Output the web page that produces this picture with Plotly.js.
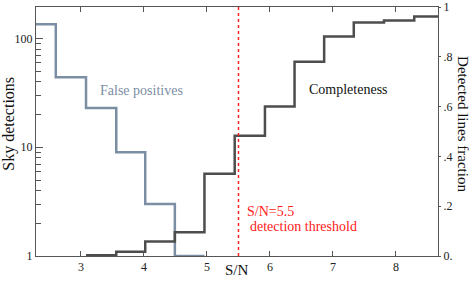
<!DOCTYPE html>
<html>
<head>
<meta charset="utf-8">
<script src="https://cdn.plot.ly/plotly-3.0.1.min.js"></script>
<style>html,body{margin:0;padding:0;background:#fff;}#chart{width:471px;height:284px;}</style>
</head>
<body>
<div id="chart"></div>
<script>
// S/N bin edges (14 bins)
const binEdges = [2.13, 2.60, 3.08, 3.56, 4.02, 4.49, 4.96, 5.44, 5.92, 6.39, 6.86, 7.33, 7.81, 8.29, 8.76];
// Sky detections (false positives) per bin, log scale
const falsePositives = [135, 44, 23, 9, 3, 1, null, null, null, null, null, null, null, null];
// Detected lines fraction (completeness) per bin
const completeness = [null, null, 0.003, 0.017, 0.058, 0.095, 0.33, 0.483, 0.60, 0.78, 0.882, 0.938, 0.946, 0.962];
const threshold = 5.5;
const xTicks = [3, 4, 5, 6, 7, 8];
const yTicks = [1, 10, 100];
const yMinorTicks = [2, 3, 4, 5, 6, 7, 8, 9, 20, 30, 40, 50, 60, 70, 80, 90];
const y2Ticks = [0, 0.2, 0.4, 0.6, 0.8, 1];
const y2TickText = ['0.', '.2', '.4', '.6', '.8', '1'];

function stepXY(values) {
  const xs = [], ys = [];
  let last = -1;
  values.forEach((v, i) => {
    if (v === null) return;
    xs.push(binEdges[i]); ys.push(v); last = i;
  });
  xs.push(binEdges[last + 1]); ys.push(values[last]);
  return {xs, ys};
}

const fp = stepXY(falsePositives);
const cp = stepXY(completeness);

const serif = 'Liberation Serif, Times New Roman, serif';
const fpColor = '#7b8ea4';
const cpColor = '#4d4d4d';

const traces = [
  {x: fp.xs, y: fp.ys, type: 'scatter', mode: 'lines', line: {shape: 'hv', color: fpColor, width: 2.5},
   xaxis: 'x', yaxis: 'y', hoverinfo: 'skip'},
  {x: cp.xs, y: cp.ys, type: 'scatter', mode: 'lines', line: {shape: 'hv', color: cpColor, width: 2.5},
   xaxis: 'x', yaxis: 'y2', hoverinfo: 'skip'}
];

const layout = {
  width: 471, height: 284,
  margin: {l: 36, r: 33, t: 7, b: 27.5, pad: 0},
  paper_bgcolor: '#fff', plot_bgcolor: '#fff',
  showlegend: false,
  font: {family: serif, size: 12, color: '#222'},
  xaxis: {
    range: [2.286, 8.667], tickvals: xTicks, ticks: 'inside', ticklen: 5, tickcolor: '#555',
    showline: true, linecolor: '#555', linewidth: 1, mirror: 'ticks', showgrid: false, zeroline: false,
    tickfont: {family: serif, size: 12, color: '#222'}
  },
  yaxis: {
    type: 'log', range: [0, 2.29], tickvals: yTicks, ticktext: yTicks.map(String),
    ticks: 'inside', ticklen: 7, tickcolor: '#555',
    minor: {tickvals: yMinorTicks, ticks: 'inside', ticklen: 5, tickcolor: '#555', showgrid: false},
    showline: true, linecolor: '#555', linewidth: 1, showgrid: false, zeroline: false,
    tickfont: {family: serif, size: 12, color: '#222'}
  },
  yaxis2: {
    overlaying: 'y', side: 'right', range: [0, 1], tickvals: y2Ticks, ticktext: y2TickText,
    ticks: 'outside', ticklen: 2, tickcolor: '#555',
    showline: true, linecolor: '#555', linewidth: 1, showgrid: false, zeroline: false,
    tickfont: {family: serif, size: 12, color: '#222'}
  },
  shapes: [
    {type: 'line', xref: 'x', yref: 'paper', x0: threshold, x1: threshold, y0: 0, y1: 1,
     line: {color: '#ff2020', width: 1.5, dash: 'dot'}}
  ],
  annotations: [
    {text: 'Sky detections', xref: 'paper', yref: 'paper', x: -0.068, y: 0.53, textangle: -90,
     showarrow: false, xanchor: 'center', yanchor: 'middle', font: {family: serif, size: 16, color: '#111'}},
    {text: 'Detected lines fraction', xref: 'paper', yref: 'paper', x: 1.062, y: 0.53, textangle: 90,
     showarrow: false, xanchor: 'center', yanchor: 'middle', font: {family: serif, size: 15, color: '#111'}},
    {text: 'S/N', xref: 'paper', yref: 'paper', x: 0.5, y: -0.058,
     showarrow: false, xanchor: 'center', yanchor: 'middle', font: {family: serif, size: 15, color: '#111'}},
    {text: 'False positives', xref: 'x', yref: 'paper', x: 3.27, y: 0.666,
     showarrow: false, xanchor: 'left', yanchor: 'middle', font: {family: serif, size: 14, color: fpColor}},
    {text: 'Completeness', xref: 'x', yref: 'paper', x: 6.59, y: 0.67,
     showarrow: false, xanchor: 'left', yanchor: 'middle', font: {family: serif, size: 14, color: '#111'}},
    {text: 'S/N=5.5', xref: 'x', yref: 'paper', x: 5.60, y: 0.178,
     showarrow: false, xanchor: 'left', yanchor: 'middle', font: {family: serif, size: 14, color: '#ff2020'}},
    {text: 'detection threshold', xref: 'x', yref: 'paper', x: 5.65, y: 0.118,
     showarrow: false, xanchor: 'left', yanchor: 'middle', font: {family: serif, size: 14, color: '#ff2020'}}
  ]
};

Plotly.newPlot('chart', traces, layout, {staticPlot: true, displayModeBar: false});
</script>
</body>
</html>
